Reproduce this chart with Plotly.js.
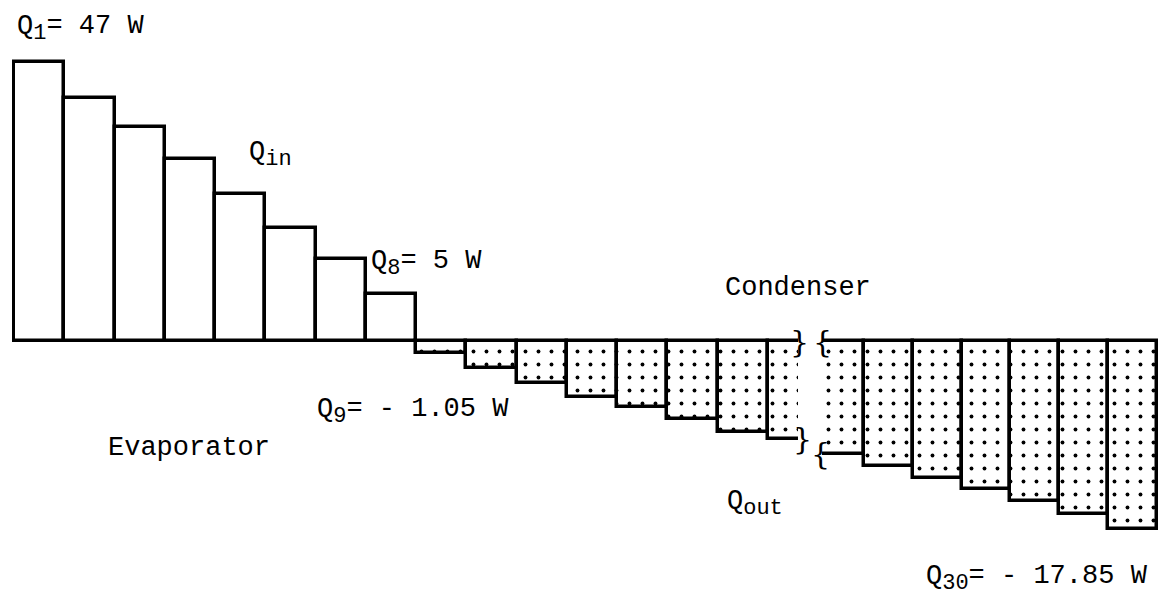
<!DOCTYPE html>
<html><head><meta charset="utf-8">
<script src="https://cdn.plot.ly/plotly-3.0.1.min.js"></script>
<style>html,body{margin:0;padding:0;background:#fff}#chart{width:1161px;height:607px}</style>
</head><body><div id="chart"></div>
<script>
// Heat-load steps per segment; bar heights as drawn in the figure (scaled so that Q1 = 47 W)
const evapIndex = [1, 2, 3, 4, 5, 6, 7, 8];
const qIn = [47.0, 41.0, 36.1, 30.7, 24.8, 19.1, 13.8, 8.0];
const condIndexA = [9, 10, 11, 12, 13, 14, 15, 16];
const qOutA = [-2.1, -4.6, -7.0, -9.5, -11.1, -13.1, -15.4, -16.5];
const condIndexB = [24, 25, 26, 27, 28, 29, 30];
const qOutB = [-19.0, -21.1, -23.1, -24.9, -27.0, -29.1, -31.7];

const sub = s => '<sub><span style="font-size:22px">' + s + '</span></sub>';
const labelTexts = [
  'Q' + sub('1') + '= 47 W',
  'Q' + sub('in'),
  'Q' + sub('8') + '= 5 W',
  'Condenser',
  'Q' + sub('9') + '= - 1.05 W',
  'Evaporator',
  'Q' + sub('out'),
  'Q' + sub('30') + '= - 17.85 W'
];

// layout geometry (pixels)
const W = 1161, H = 607;
const mL = 12, mR = 2, mT = 20, mB = 20;
const plotW = W - mL - mR, plotH = H - mT - mB;
const fx = px => (px - mL) / plotW;
const fy = py => 1 - (py - mT) / plotH;
const dom1End = fx(798), dom2Start = fx(822);

const labelPos = [[16, 10], [248, 136], [370, 245], [724, 272], [316, 393], [107, 432], [726, 485], [925, 560]];

const font = {family: 'Liberation Mono, Courier New, monospace', size: 27, color: '#000'};
const outline = {color: '#000', width: 3.5};
const dots = {shape: '.', fgcolor: '#000', bgcolor: '#fff', size: 13, solidity: 0.07};

const traces = [
  {type: 'bar', x: evapIndex, y: qIn, xaxis: 'x', yaxis: 'y', width: 1,
   marker: {color: '#fff', line: outline}, hoverinfo: 'skip'},
  {type: 'bar', x: condIndexA, y: qOutA, xaxis: 'x', yaxis: 'y', width: 1,
   marker: {color: '#fff', line: outline, pattern: dots}, hoverinfo: 'skip'},
  {type: 'bar', x: condIndexB, y: qOutB, xaxis: 'x2', yaxis: 'y', width: 1,
   marker: {color: '#fff', line: outline, pattern: dots}, hoverinfo: 'skip'}
];

const annotations = labelTexts.map((t, i) => ({
  text: t, xref: 'paper', yref: 'paper', x: fx(labelPos[i][0]), y: fy(labelPos[i][1]),
  xanchor: 'left', yanchor: 'top', showarrow: false, font: font, borderpad: 0
}));

const breakFont = {family: 'DejaVu Serif, serif', size: 30, color: '#000'};
[[dom1End + 0.001, 0, '}'], [dom2Start, 0, '{'],
 [dom1End + 0.004, qOutA[qOutA.length - 1], '}'], [dom2Start - 0.001, qOutB[0], '{']].forEach(b => {
  annotations.push({text: b[2], xref: 'paper', yref: 'y', x: b[0], y: b[1],
    xanchor: 'center', yanchor: 'middle', showarrow: false, font: breakFont});
});

const zeroPx = 341, pxPerUnit = 279 / 47;
const yTop = (zeroPx - mT) / pxPerUnit, yBot = -(mT + plotH - zeroPx) / pxPerUnit;

const axisOff = {visible: false, showgrid: false, zeroline: false, fixedrange: true};
const layout = {
  width: W, height: H,
  margin: {l: mL, r: mR, t: mT, b: mB, pad: 0},
  paper_bgcolor: '#fff', plot_bgcolor: 'rgba(0,0,0,0)',
  barmode: 'overlay', bargap: 0, showlegend: false, hovermode: false,
  xaxis: Object.assign({domain: [0, dom1End], range: [0.46, 16.1]}, axisOff),
  xaxis2: Object.assign({domain: [dom2Start, 1], range: [23.646, 30.54], anchor: 'y'}, axisOff),
  yaxis: Object.assign({range: [yBot, yTop]}, axisOff),
  annotations: annotations
};

Plotly.newPlot('chart', traces, layout, {displayModeBar: false});
</script></body></html>
